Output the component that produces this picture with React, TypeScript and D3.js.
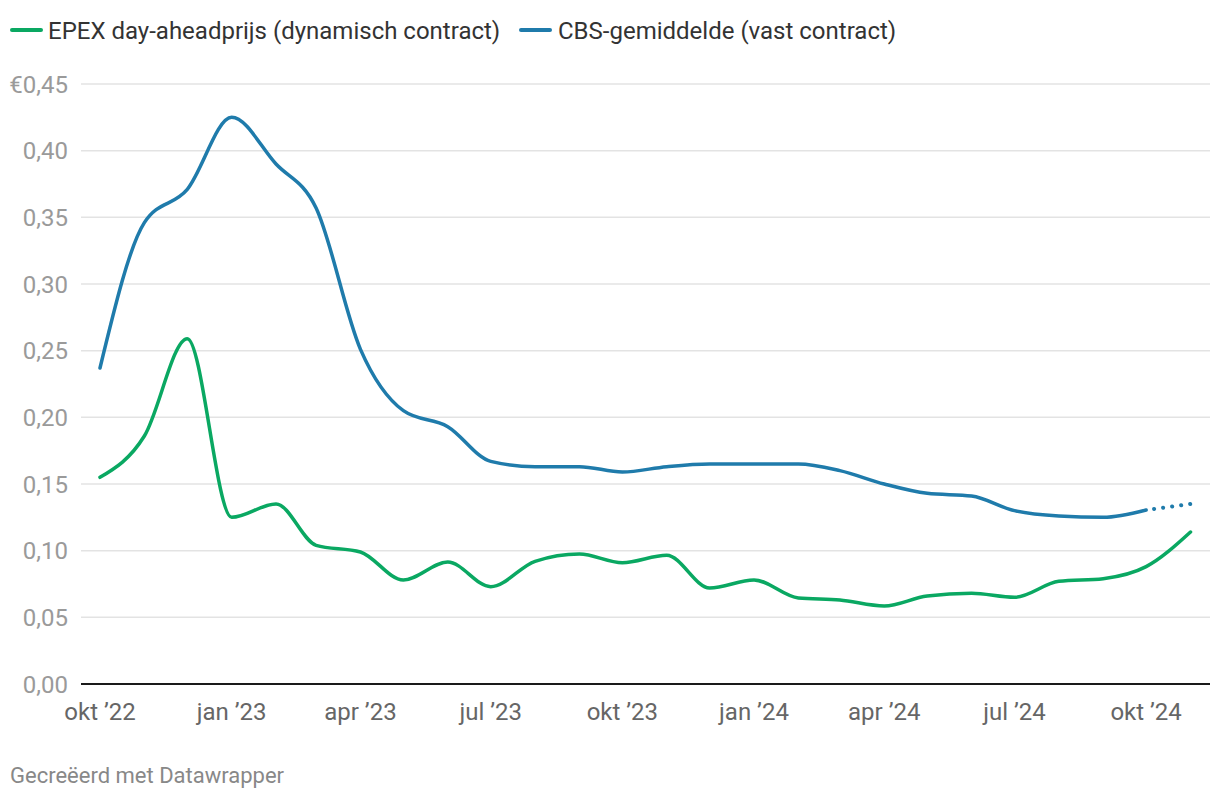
import React from "react";
import * as d3 from "d3";

const months = [
  "2022-10", "2022-11", "2022-12",
  "2023-01", "2023-02", "2023-03", "2023-04", "2023-05", "2023-06",
  "2023-07", "2023-08", "2023-09", "2023-10", "2023-11", "2023-12",
  "2024-01", "2024-02", "2024-03", "2024-04", "2024-05", "2024-06",
  "2024-07", "2024-08", "2024-09", "2024-10", "2024-11",
];

const epex = [
  0.155, 0.186, 0.259,
  0.125, 0.135, 0.104, 0.099, 0.078, 0.0915,
  0.073, 0.092, 0.0975, 0.091, 0.0965, 0.072,
  0.078, 0.0645, 0.063, 0.0585, 0.066, 0.068,
  0.065, 0.077, 0.079, 0.088, 0.114,
];

const cbs = [
  0.237, 0.346, 0.371,
  0.425, 0.39, 0.357, 0.251, 0.205, 0.193,
  0.167, 0.163, 0.163, 0.159, 0.163, 0.165,
  0.165, 0.165, 0.160, 0.150, 0.143, 0.141,
  0.130, 0.126, 0.125, 0.1305, 0.135,
];
// last CBS point (nov '24) is a projection, drawn dotted
const cbsProjectedFrom = 24;

const yTicks = [0, 0.05, 0.1, 0.15, 0.2, 0.25, 0.3, 0.35, 0.4, 0.45];
const xTickMonths = ["2022-10", "2023-01", "2023-04", "2023-07", "2023-10", "2024-01", "2024-04", "2024-07", "2024-10"];
const monthNames = ["jan", "feb", "mrt", "apr", "mei", "jun", "jul", "aug", "sep", "okt", "nov", "dec"];

const legendItems = [
  { label: "EPEX day-aheadprijs (dynamisch contract)", color: "#0aa862" },
  { label: "CBS-gemiddelde (vast contract)", color: "#1f7bab" },
];

const parse = (s: string) => {
  const [y, m] = s.split("-").map(Number);
  return new Date(y, m - 1, 1);
};

const W = 1220;
const H = 800;
const FONT = "Roboto, 'Noto Sans', sans-serif";

export default function App() {
  const dates = months.map(parse);
  const x = d3.scaleTime().domain([parse("2022-10"), parse("2024-11")]).range([100, 1190.5]);
  const y = d3.scaleLinear().domain([0, 0.45]).range([684, 84]);

  const line = d3
    .line<[Date, number]>()
    .x((d) => x(d[0]))
    .y((d) => y(d[1]))
    .curve(d3.curveMonotoneX);

  const epexPts: [Date, number][] = dates.map((d, i) => [d, epex[i]]);
  const cbsPts: [Date, number][] = dates.map((d, i) => [d, cbs[i]]);
  const cbsSolid = cbsPts.slice(0, cbsProjectedFrom + 1);
  const cbsDotted = cbsPts.slice(cbsProjectedFrom);

  const fmtY = (v: number, i: number) => {
    const s = v.toFixed(2).replace(".", ",");
    return i === yTicks.length - 1 ? "€" + s : s;
  };
  const fmtX = (s: string) => {
    const d = parse(s);
    return `${monthNames[d.getMonth()]} ’${String(d.getFullYear()).slice(2)}`;
  };

  return (
    <svg
      width={W}
      height={H}
      style={{ position: "absolute", left: 0, top: 0, background: "#fff" }}
      fontFamily={FONT}
    >
      {/* legend */}
      <g>
        <line x1={12} x2={41} y1={30} y2={30} stroke={legendItems[0].color} strokeWidth={4} strokeLinecap="round" />
        <text x={48} y={38.5} fontSize={24} fill="#333">{legendItems[0].label}</text>
        <line x1={521} x2={550} y1={30} y2={30} stroke={legendItems[1].color} strokeWidth={4} strokeLinecap="round" />
        <text x={558} y={38.5} fontSize={24} fill="#333">{legendItems[1].label}</text>
      </g>

      {/* grid + y labels */}
      {yTicks.map((t, i) => (
        <g key={t}>
          {t !== 0 && <line x1={81} x2={1210} y1={y(t)} y2={y(t)} stroke="#e3e3e3" strokeWidth={1.5} />}
          <text x={68} y={y(t) + 8.5} textAnchor="end" fontSize={24} fill="#9a9a9a">
            {fmtY(t, i)}
          </text>
        </g>
      ))}
      <line x1={81} x2={1210} y1={y(0)} y2={y(0)} stroke="#1a1a1a" strokeWidth={2} />

      {/* x labels */}
      {xTickMonths.map((m) => (
        <text key={m} x={x(parse(m))} y={720} textAnchor="middle" fontSize={24} fill="#666">
          {fmtX(m)}
        </text>
      ))}

      {/* lines */}
      <path d={line(epexPts) || ""} fill="none" stroke={legendItems[0].color} strokeWidth={3.5} strokeLinecap="round" strokeLinejoin="round" />
      <path d={line(cbsSolid) || ""} fill="none" stroke={legendItems[1].color} strokeWidth={3.5} strokeLinecap="round" strokeLinejoin="round" />
      <path d={line(cbsDotted) || ""} fill="none" stroke={legendItems[1].color} strokeWidth={4} strokeLinecap="round" strokeDasharray="0.1 9" strokeDashoffset={-8} />

      {/* footer */}
      <text x={10} y={783} fontSize={22} fill="#888">Gecreëerd met Datawrapper</text>
    </svg>
  );
}
